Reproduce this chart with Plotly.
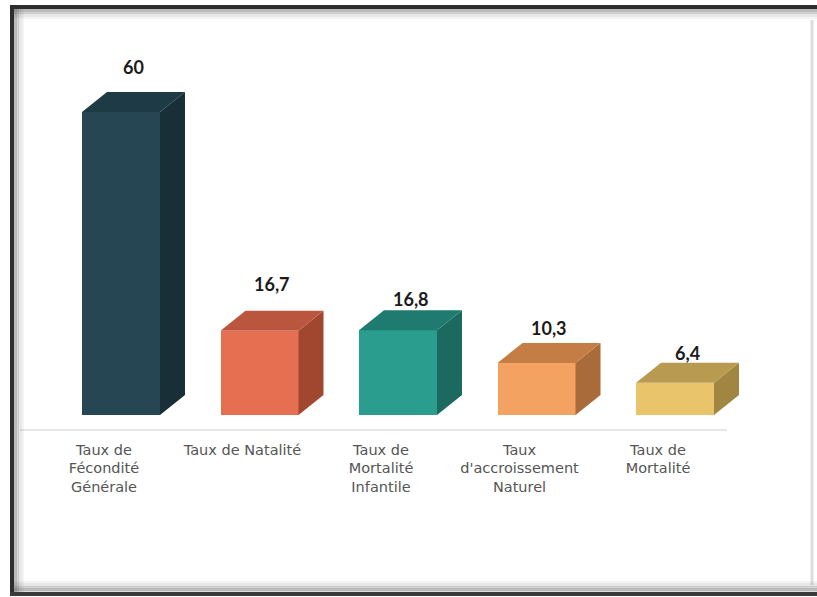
import plotly.graph_objects as go

# ---- data ----
categories = [
    "Taux de<br>Fécondité<br>Générale",
    "Taux de Natalité",
    "Taux de<br>Mortalité<br>Infantile",
    "Taux<br>d'accroissement<br>Naturel",
    "Taux de<br>Mortalité",
]
values = [60, 16.7, 16.8, 10.3, 6.4]

# ---- styles ----
front_colors = ["#264653", "#e76f51", "#2a9d8f", "#f4a261", "#e9c46a"]
top_colors = ["#1e3a45", "#b9563d", "#1f7b6f", "#c47d45", "#b89a50"]
side_colors = ["#192f37", "#a1472f", "#1c6a5f", "#a96b3a", "#a08640"]
label_shift_px = [25, 27, 11, 15, 10]

W, H = 817, 597
ML, MR, MT, MB = 20, 40, 50, 167
plot_w = W - ML - MR
plot_h = H - MT - MB
px_per_x = 138.5
px_per_y = 5.05
x_min = -84 / px_per_x
x_max = x_min + plot_w / px_per_x
y_min = -15 / px_per_y
y_max = y_min + plot_h / px_per_y

bar_offset = -22 / px_per_x
bar_width = 78 / px_per_x
depth_x = 25 / px_per_x
depth_y = 20 / px_per_y

idx = list(range(len(values)))

fig = go.Figure()

# side and top faces
for i, v in zip(idx, values):
    x0 = i + bar_offset
    x1 = x0 + bar_width
    fig.add_trace(go.Scatter(
        x=[x1, x1 + depth_x, x1 + depth_x, x1, x1],
        y=[0, depth_y, v + depth_y, v, 0],
        fill="toself", fillcolor=side_colors[i], mode="lines",
        line=dict(width=0, color=side_colors[i]), hoverinfo="skip", showlegend=False,
    ))
    fig.add_trace(go.Scatter(
        x=[x0, x0 + depth_x, x1 + depth_x, x1, x0],
        y=[v, v + depth_y, v + depth_y, v, v],
        fill="toself", fillcolor=top_colors[i], mode="lines",
        line=dict(width=0, color=top_colors[i]), hoverinfo="skip", showlegend=False,
    ))

# front faces
fig.add_trace(go.Bar(
    x=idx, y=values, width=bar_width, offset=bar_offset,
    marker=dict(color=front_colors, line=dict(width=0)),
    showlegend=False, hoverinfo="skip",
))

# value labels
for i, v in enumerate(values):
    txt = (f"{v:g}").replace(".", ",")
    fig.add_annotation(
        x=i + bar_offset + bar_width / 2 + depth_x / 2,
        y=v + depth_y, yshift=label_shift_px[i],
        text=txt, showarrow=False, xanchor="center", yanchor="middle",
        font=dict(family="Lato", size=18, color="#1a1a1a", weight="bold"),
    )


def px(xp):
    return (xp - ML) / plot_w


def py(yp):
    return (H - MB - yp) / plot_h


shapes = []
# baseline rule
shapes.append(dict(type="line", xref="paper", yref="paper",
                   x0=px(20), x1=px(727), y0=0, y1=0,
                   line=dict(color="#e6e6e6", width=2)))
# soft inner shadow of the frame
for k, op in enumerate([0.35, 0.22, 0.12, 0.06]):
    off = 3 + k * 2.5
    shapes.append(dict(type="line", xref="paper", yref="paper",
                       x0=px(12 + off), x1=px(12 + off), y0=py(7), y1=py(594),
                       line=dict(color=f"rgba(60,60,60,{op})", width=3)))
    shapes.append(dict(type="line", xref="paper", yref="paper",
                       x0=px(12), x1=px(817), y0=py(7 + off), y1=py(7 + off),
                       line=dict(color=f"rgba(60,60,60,{op})", width=3)))
    shapes.append(dict(type="line", xref="paper", yref="paper",
                       x0=px(12), x1=px(817), y0=py(593 - off), y1=py(593 - off),
                       line=dict(color=f"rgba(60,60,60,{op})", width=3)))
# dark frame edges
shapes.append(dict(type="line", xref="paper", yref="paper",
                   x0=px(12), x1=px(12), y0=py(6), y1=py(595),
                   line=dict(color="#2e2e2e", width=4)))
shapes.append(dict(type="line", xref="paper", yref="paper",
                   x0=px(10), x1=px(817), y0=py(7), y1=py(7),
                   line=dict(color="#2e2e2e", width=4)))
shapes.append(dict(type="line", xref="paper", yref="paper",
                   x0=px(10), x1=px(817), y0=py(594), y1=py(594),
                   line=dict(color="#3a3a3a", width=4)))
shapes.append(dict(type="line", xref="paper", yref="paper",
                   x0=px(812), x1=px(812), y0=py(20), y1=py(585),
                   line=dict(color="rgba(120,120,120,0.25)", width=3)))

fig.update_layout(
    width=W, height=H,
    margin=dict(l=ML, r=MR, t=MT, b=MB),
    paper_bgcolor="white", plot_bgcolor="white",
    bargap=0,
    shapes=shapes,
    xaxis=dict(
        range=[x_min, x_max], tickvals=idx, ticktext=categories,
        showgrid=False, zeroline=False, showline=False,
        ticks="", ticklen=0, ticklabelstandoff=9,
        tickfont=dict(family="DejaVu Sans", size=14.5, color="#555555"),
        fixedrange=True,
    ),
    yaxis=dict(range=[y_min, y_max], visible=False, fixedrange=True),
)

fig.write_html(
    "out.html",
    config={"displayModeBar": False},
    post_script="document.body.style.margin='0px';document.body.style.overflow='hidden';",
)
